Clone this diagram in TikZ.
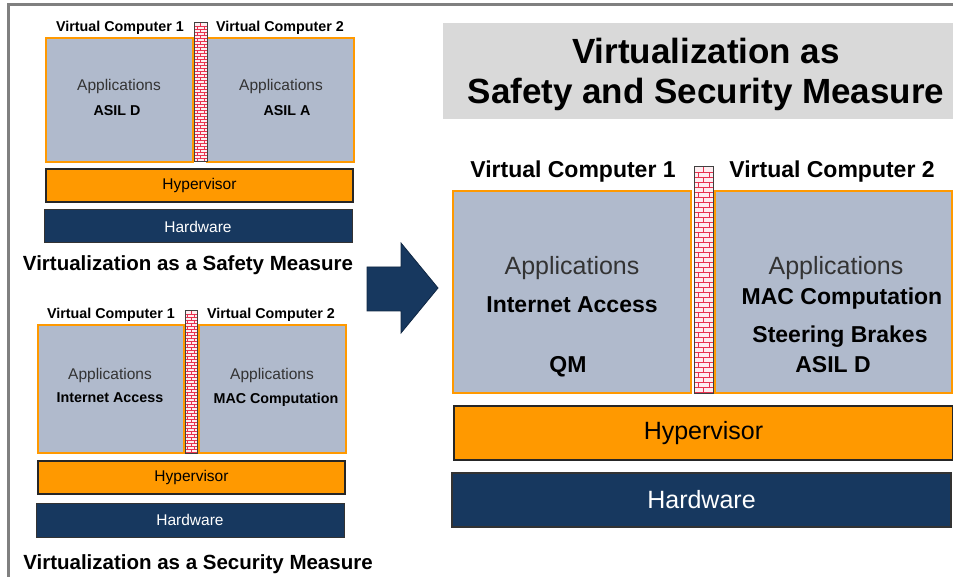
\documentclass[tikz,border=0pt]{standalone}
\usepackage{fontspec}
\setmainfont{Liberation Sans}

\definecolor{appblue}{RGB}{176,186,204}
\definecolor{vcorange}{RGB}{255,153,0}
\definecolor{hwnavy}{RGB}{23,56,95}
\definecolor{titlegray}{RGB}{217,217,217}
\definecolor{framegray}{RGB}{128,128,128}
\definecolor{brickred}{RGB}{232,50,80}
\definecolor{brickbg}{RGB}{253,238,241}

% firewall between two virtual computers: left, top, right, bottom, row height, line width
\newcommand{\brickwall}[6]{%
  \fill[brickbg] (#1,#2) rectangle (#3,#4);
  \pgfmathtruncatemacro{\nrows}{(#4-#2)/#5}
  \pgfmathsetmacro{\wallw}{#3-#1}
  \foreach \r in {1,...,\nrows}{
    \pgfmathsetmacro{\yr}{#2+#5*\r}
    \pgfmathsetmacro{\yp}{\yr-#5}
    \draw[brickred, line width=#6] (#1,\yr) -- (#3,\yr);
    \ifodd\r
      \draw[brickred, line width=#6] ({#1+0.5*\wallw},\yp) -- ({#1+0.5*\wallw},\yr);
    \else
      \draw[brickred, line width=#6] ({#1+0.22*\wallw},\yp) -- ({#1+0.22*\wallw},\yr)
        ({#1+0.78*\wallw},\yp) -- ({#1+0.78*\wallw},\yr);
    \fi
  }
  \draw[black!75, line width=1pt] (#1,#2) rectangle (#3,#4);
}

\begin{document}
\begin{tikzpicture}[x=1pt,y=-1pt,
  appbox/.style={draw=vcorange, fill=appblue, line width=1.5pt, inner sep=0pt},
  hyperbox/.style={draw=black!85, fill=vcorange, line width=1.2pt, inner sep=0pt},
  hwbox/.style={draw=black!80, fill=hwnavy, text=white, line width=1pt, inner sep=0pt},
  vclabel/.style={yshift=-2pt, font=\fontsize{14.3}{16}\selectfont\bfseries},
  bigvclabel/.style={yshift=-2pt, font=\fontsize{23}{26}\selectfont\bfseries},
  apptext/.style={yshift=-2pt, text=black!80, font=\fontsize{15.5}{18}\selectfont},
  bigapptext/.style={yshift=-2pt, text=black!80, font=\fontsize{25}{28}\selectfont},
  appname/.style={yshift=-2pt, font=\fontsize{14.3}{16}\selectfont\bfseries},
  bigappname/.style={yshift=-2pt, font=\fontsize{23}{26}\selectfont\bfseries},
  measurecap/.style={yshift=-1pt, font=\fontsize{20.5}{24}\selectfont\bfseries}]
  \useasboundingbox (0,0) rectangle (953,577);
  \draw[framegray, line width=3pt] (8,577) -- (8,5) -- (953,5);

  % safety measure
  \node[vclabel] (safelab1) at (120,26) {Virtual Computer 1};
  \node[vclabel] (safelab2) at (280,26) {Virtual Computer 2};
  \node[appbox, minimum width=147, minimum height=124] (safevc1) at (119.5,100) {};
  \node[appbox, minimum width=147, minimum height=124] (safevc2) at (280.5,100) {};
  \brickwall{194}{23}{207}{162}{3}{0.4pt}
  \node[apptext] (safeapp1) at (119,84) {Applications};
  \node[appname] (safeasil1) at (117,109) {ASIL D};
  \node[apptext] (safeapp2) at (281,84) {Applications};
  \node[appname] (safeasil2) at (287,109) {ASIL A};
  \node[hyperbox, minimum width=307, minimum height=33, font=\fontsize{15.5}{18}\selectfont] (safehyp) at (199.5,185.5) {Hypervisor};
  \node[hwbox, minimum width=308, minimum height=33, font=\fontsize{15.5}{18}\selectfont] (safehw) at (198,226.5) {Hardware};
  \node[measurecap] (safecap) at (188,264) {Virtualization as a Safety Measure};

  % security measure
  \node[vclabel] (seclab1) at (111,313) {Virtual Computer 1};
  \node[vclabel] (seclab2) at (271,313) {Virtual Computer 2};
  \node[appbox, minimum width=146, minimum height=128] (secvc1) at (111,389) {};
  \node[appbox, minimum width=147, minimum height=128] (secvc2) at (272.5,389) {};
  \brickwall{185}{311}{197}{453}{3}{0.4pt}
  \node[apptext] (secapp1) at (110,373) {Applications};
  \node[appname] (secnet) at (110,396) {Internet Access};
  \node[apptext] (secapp2) at (272,373) {Applications};
  \node[appname] (secmac) at (276,398) {MAC Computation};
  \node[hyperbox, minimum width=307, minimum height=33, font=\fontsize{15.5}{18}\selectfont] (sechyp) at (191.5,477.5) {Hypervisor};
  \node[hwbox, minimum width=308, minimum height=34, font=\fontsize{15.5}{18}\selectfont] (sechw) at (190,520) {Hardware};
  \node[measurecap] (seccap) at (198,563) {Virtualization as a Security Measure};

  % arrow
  \draw[fill=hwnavy, draw=hwnavy!70!black, line width=0.8pt]
    (367,267) -- (401,267) -- (401,243) -- (438,288) -- (401,333) -- (401,311) -- (367,311) -- cycle;

  % both measures
  \node[fill=titlegray, minimum width=510, minimum height=96, inner sep=0pt] (both) at (698,71) {};
  \node[align=center, font=\fontsize{35}{40}\selectfont\bfseries] (bothtitle) at (706,74)
        {Virtualization as\\Safety and Security Measure};
  \node[bigvclabel] (bothlab1) at (573,170) {Virtual Computer 1};
  \node[bigvclabel] (bothlab2) at (832,170) {Virtual Computer 2};
  \node[appbox, line width=2.5pt, minimum width=238, minimum height=202] (bothvc1) at (572,292) {};
  \node[appbox, line width=2.5pt, minimum width=237, minimum height=202] (bothvc2) at (833.5,292) {};
  \brickwall{694}{167}{713}{393}{5}{0.6pt}
  \node[bigapptext] (bothapp1) at (572,266) {Applications};
  \node[bigappname] (bothnet) at (572,303) {Internet Access};
  \node[bigappname] (bothqm) at (568,365) {QM};
  \node[bigapptext] (bothapp2) at (836,266) {Applications};
  \node[bigappname] (bothmac) at (842,297) {MAC Computation};
  \node[bigappname] (bothsteer) at (840,335) {Steering Brakes};
  \node[bigappname] (bothasil) at (833,363) {ASIL D};
  \node[hyperbox, line width=2pt, minimum width=499, minimum height=54, font=\fontsize{25}{28}\selectfont] (bothhyp) at (703.5,433) {Hypervisor};
  \node[hwbox, line width=2pt, minimum width=499, minimum height=54, font=\fontsize{25}{28}\selectfont] (bothhw) at (701.5,500) {Hardware};
\end{tikzpicture}
\end{document}
